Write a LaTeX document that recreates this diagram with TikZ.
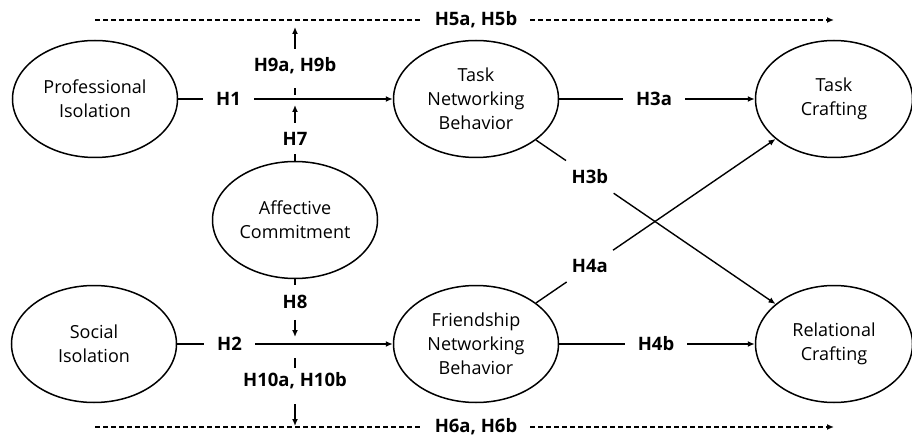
\documentclass[tikz,border=0pt]{standalone}
\usepackage{fontspec}
\setmainfont{Open Sans}
\usetikzlibrary{arrows.meta,calc,shapes.geometric}
\begin{document}
\begin{tikzpicture}[x=1pt,y=-1pt,
  var/.style={ellipse, draw, line width=1.5pt, minimum width=165pt, minimum height=117pt,
    inner sep=0pt, align=center, font=\fontsize{18}{24}\selectfont},
  hyp/.style={font=\fontsize{18.5}{22}\selectfont\bfseries, inner ysep=0pt, inner xsep=13pt},
  dhyp/.style={hyp, inner ysep=9pt, inner xsep=9pt},
  conn/.style={line width=1.4pt},
  arr/.style={conn, -{Latex[length=7pt,width=6pt]}},
  dsh/.style={conn, dash pattern=on 5pt off 3pt},
]
\useasboundingbox (0,0) rectangle (912,438);
\clip (0,0) rectangle (912,438);

% constructs
\node[var] (pi) at (95,99) {Professional\\Isolation};
\node[var] (si) at (94,344) {Social\\Isolation};
\node[var] (ac) at (295,220) {Affective\\Commitment};
\node[var] (tn) at (476,99) {Task\\Networking\\Behavior};
\node[var] (fn) at (476,344) {Friendship\\Networking\\Behavior};
\node[var, minimum width=157pt] (tc) at (834,99) {Task\\Crafting};
\node[var, minimum width=157pt] (rc) at (834,344) {Relational\\Crafting};

% helper coordinates
\coordinate (m1) at (ac |- pi);
\coordinate (m2) at (ac |- si);
\coordinate (t0) at (pi |- 0,20);
\coordinate (t1) at (tc |- 0,20);
\coordinate (t9) at (ac |- 0,20);
\coordinate (b0) at (pi |- 0,427);
\coordinate (b1) at (rc |- 0,427);
\coordinate (b9) at (ac |- 0,427);

% labels
\node[hyp] (h1) at (228.5,99) {H1};
\node[hyp] (h2) at (229.5,344) {H2};
\node[hyp] (h3a) at (654,99) {H3a};
\node[hyp] (h4b) at (656,344) {H4b};
\node[dhyp] (h3b) at ($(tn)!0.318!(rc)$) {H3b};
\node[dhyp] (h4a) at ($(fn)!0.318!(tc)$) {H4a};
\node[hyp] (h5) at (tn |- 0,20) {H5a, H5b};
\node[hyp] (h6) at (fn |- 0,427) {H6a, H6b};
\node[hyp] (h7) at (295,138.5) {H7};
\node[hyp] (h8) at (295,302) {H8};
\node[hyp] (h9) at (295,66) {H9a, H9b};
\node[hyp] (h10) at (295,381) {H10a, H10b};

% direct paths
\draw[conn] (pi) -- (h1);  \draw[arr] (h1) -- (tn);
\draw[conn] (si) -- (h2);  \draw[arr] (h2) -- (fn);
\draw[conn] (tn) -- (h3a); \draw[arr] (h3a) -- (tc);
\draw[conn] (fn) -- (h4b); \draw[arr] (h4b) -- (rc);
\draw[conn] (tn) -- (h3b); \draw[arr] (h3b) -- (rc);
\draw[conn] (fn) -- (h4a); \draw[arr] (h4a) -- (tc);

% mediated (dashed) paths
\draw[dsh] (t0) -- (h5); \draw[dsh, -{Latex[length=7pt,width=6pt]}] (h5) -- (t1);
\draw[dsh] (b0) -- (h6); \draw[dsh, -{Latex[length=7pt,width=6pt]}] (h6) -- (b1);

% moderation
\draw[conn, shorten >=9pt] (ac) -- (h7);
\draw[arr, shorten <=9pt, shorten >=6pt] (h7) -- (m1);
\draw[conn, shorten <=4pt, shorten >=14pt] (m1) -- (h9);
\draw[arr, shorten <=9pt, shorten >=7pt] (h9) -- (t9);

\draw[conn, shorten >=10pt] (ac) -- (h8);
\draw[arr, shorten <=11pt, shorten >=7pt] (h8) -- (m2);
\draw[conn, shorten <=14pt, shorten >=5pt] (m2) -- (h10);
\draw[arr, shorten <=15pt, shorten >=1pt] (h10) -- (b9);
\end{tikzpicture}
\end{document}
